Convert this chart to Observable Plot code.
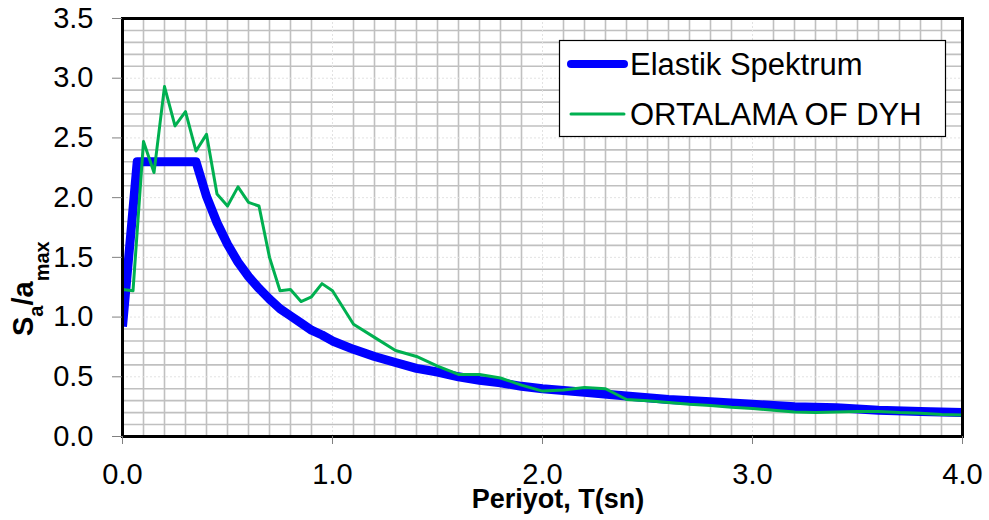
<!DOCTYPE html>
<html><head><meta charset="utf-8">
<script src="https://cdn.jsdelivr.net/npm/d3@7"></script>
<script src="https://cdn.jsdelivr.net/npm/@observablehq/plot@0.6"></script>
<style>
html,body{margin:0;padding:0;background:#fff;}
#chart{width:989px;height:520px;}
svg{display:block;}
</style></head><body><div id="chart"></div>
<script>
// Elastik Spektrum (thick blue)
const elastikT = [0, 0.07, 0.1, 0.15, 0.2, 0.25, 0.3, 0.35, 0.4, 0.45, 0.5, 0.55, 0.6, 0.65, 0.7, 0.75, 0.8, 0.85, 0.9, 0.95, 1.0, 1.1, 1.2, 1.3, 1.4, 1.5, 1.6, 1.7, 1.8, 1.9, 2.0, 2.2, 2.4, 2.6, 2.8, 3.0, 3.2, 3.4, 3.6, 3.8, 4.0];
const elastikS = [0.92, 2.30, 2.30, 2.30, 2.30, 2.30, 2.30, 2.30, 2.01, 1.79, 1.61, 1.46, 1.34, 1.24, 1.15, 1.07, 1.01, 0.95, 0.89, 0.85, 0.80, 0.73, 0.67, 0.62, 0.57, 0.54, 0.50, 0.47, 0.45, 0.42, 0.40, 0.37, 0.34, 0.31, 0.29, 0.27, 0.25, 0.24, 0.22, 0.21, 0.20];
// ORTALAMA OF DYH (thin green)
const dyhT = [0, 0.05, 0.1, 0.15, 0.2, 0.25, 0.3, 0.35, 0.4, 0.45, 0.5, 0.55, 0.6, 0.65, 0.7, 0.75, 0.8, 0.85, 0.9, 0.95, 1.0, 1.1, 1.2, 1.3, 1.4, 1.5, 1.6, 1.7, 1.8, 1.9, 2.0, 2.1, 2.2, 2.3, 2.4, 2.5, 2.6, 2.7, 2.8, 2.9, 3.0, 3.1, 3.2, 3.3, 3.4, 3.5, 3.6, 3.7, 3.8, 3.9, 4.0];
const dyhS = [1.23, 1.22, 2.47, 2.21, 2.93, 2.60, 2.72, 2.39, 2.53, 2.03, 1.93, 2.09, 1.96, 1.93, 1.50, 1.22, 1.23, 1.13, 1.17, 1.28, 1.22, 0.94, 0.83, 0.72, 0.67, 0.59, 0.52, 0.52, 0.49, 0.43, 0.38, 0.39, 0.41, 0.40, 0.31, 0.30, 0.285, 0.27, 0.26, 0.245, 0.235, 0.22, 0.205, 0.20, 0.205, 0.21, 0.21, 0.20, 0.195, 0.185, 0.18];
// ticks
const xTicks = [0, 1, 2, 3, 4];
const yTicks = [0, 0.5, 1.0, 1.5, 2.0, 2.5, 3.0, 3.5];
const seriesNames = ["Elastik Spektrum", "ORTALAMA OF DYH"];
const seriesColors = ["#0000ff", "#00b050"];

const elastik = elastikT.map((t, i) => ({T: t, S: elastikS[i]}));
const dyh = dyhT.map((t, i) => ({T: t, S: dyhS[i]}));

const xMinor = d3.range(1, 40).map(i => i / 10).filter(v => Math.abs(v - Math.round(v)) > 1e-6);
const yMinor = d3.range(1, 35).map(i => i / 10).filter(v => Math.abs(v * 2 - Math.round(v * 2)) > 1e-6);
const xMajor = xTicks.slice(1, -1);
const yMajor = yTicks.slice(1, -1);

const FONT = "'Liberation Sans', Arial, Helvetica, sans-serif";

const plot = Plot.plot({
  width: 989,
  height: 520,
  marginLeft: 122,
  marginRight: 27,
  marginTop: 18,
  marginBottom: 84,
  style: {fontFamily: FONT, background: "#fff", color: "#000", overflow: "visible"},
  x: {domain: [0, 4]},
  y: {domain: [0, 3.5]},
  marks: [
    Plot.ruleX(xMinor, {stroke: "#c0c0c0", strokeWidth: 1.6}),
    Plot.ruleY(yMinor, {stroke: "#c0c0c0", strokeWidth: 1.6}),
    Plot.ruleX(xMajor, {stroke: "#e2e2e2", strokeWidth: 1, strokeDasharray: "2,2"}),
    Plot.ruleY(yMajor, {stroke: "#e2e2e2", strokeWidth: 1, strokeDasharray: "2,2"}),
    Plot.line(elastik, {x: "T", y: "S", stroke: seriesColors[0], strokeWidth: 9, strokeLinejoin: "round", strokeLinecap: "butt", clip: true}),
    Plot.line(dyh, {x: "T", y: "S", stroke: seriesColors[1], strokeWidth: 3, strokeLinejoin: "round", strokeLinecap: "butt", clip: true}),
    Plot.frame({stroke: "#000", strokeWidth: 3}),
    Plot.axisX({ticks: xTicks, tickSize: 8, tickPadding: 19, tickFormat: d3.format(".1f"), fontSize: 29, stroke: "#808080", fill: "#000", label: null}),
    Plot.axisY({ticks: yTicks, tickSize: 10, tickPadding: 19, tickFormat: d3.format(".1f"), fontSize: 29, stroke: "#808080", fill: "#000", label: null})
  ]
});

document.getElementById("chart").appendChild(plot);

const svg = d3.select(plot);

// Legend
const lg = svg.append("g").attr("font-family", FONT).attr("font-size", 31).attr("text-anchor", "start");
lg.append("rect").attr("x", 559.5).attr("y", 40.5).attr("width", 386).attr("height", 96)
  .attr("fill", "#fff").attr("stroke", "#000").attr("stroke-width", 1.2);
[64, 114].forEach((yy, i) => {
  lg.append("line").attr("x1", 571).attr("x2", 624).attr("y1", yy).attr("y2", yy)
    .attr("stroke", seriesColors[i]).attr("stroke-width", i === 0 ? 8 : 3).attr("stroke-linecap", "round");
  lg.append("text").attr("x", 630).attr("y", yy).attr("dy", "0.36em").attr("text-anchor", "start").attr("fill", "#000").text(seriesNames[i]);
});

// Axis titles
svg.append("text").attr("x", 558).attr("y", 508).attr("text-anchor", "middle")
  .attr("font-family", FONT).attr("font-weight", "bold").attr("font-size", 27).attr("fill", "#000")
  .text("Periyot, T(sn)");

const yl = svg.append("text").attr("transform", "translate(33,336) rotate(-90)")
  .attr("text-anchor", "start").attr("font-family", FONT).attr("font-weight", "bold").attr("fill", "#000").attr("font-size", 29);
yl.append("tspan").text("S");
yl.append("tspan").attr("font-size", 20).attr("dy", 10).text("a");
yl.append("tspan").attr("font-size", 29).attr("dy", -10).text("/a");
yl.append("tspan").attr("font-size", 20).attr("dy", 16).text("max");
</script>
</body></html>
